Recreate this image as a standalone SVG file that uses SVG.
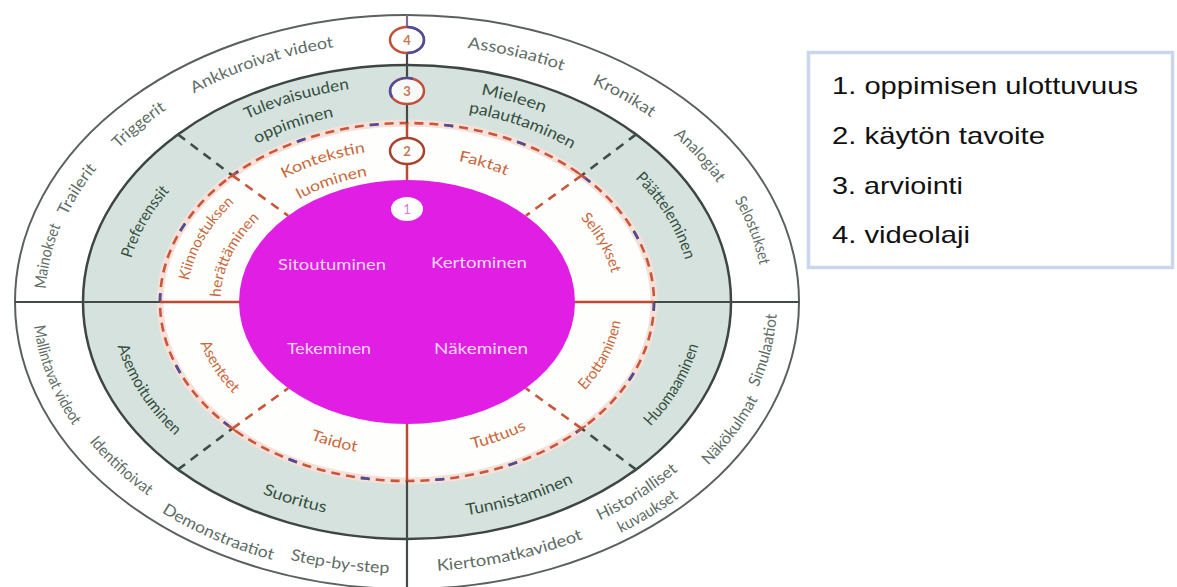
<svg xmlns="http://www.w3.org/2000/svg" width="1177" height="587" viewBox="0 0 1177 587">
<style>
.lbl{font-family:Lato,"Open Sans","Liberation Sans",sans-serif;text-anchor:middle}
.t4{font-size:16px;fill:#5e6d66}
.t3{font-size:16px;fill:#34503f}
.t2{font-size:15px;fill:#c8683c}
.tm{font-size:16px;fill:#f8d8f8}
.dk{stroke:#434b48;stroke-width:2.2;fill:none}
.rd{stroke:#b94a33;stroke-width:2.5;fill:none}
.dd{stroke:#3f4d47;stroke-width:2.6;stroke-dasharray:9 7;fill:none}
.rdd{stroke:#c9553a;stroke-width:2.6;stroke-dasharray:9 7;fill:none}
.num{font-family:Lato,"Open Sans",sans-serif;font-size:13px;font-weight:700;text-anchor:middle;fill:#c47a52}
.leg{font-family:"Liberation Sans",Arial,sans-serif;font-size:24px;fill:#111}
</style>
<defs>
<path id="p_ankk" d="M161.1,113.6 A356.4,260.2 0 0 1 372.2,43.1"/>
<path id="p_trig" d="M107.7,160.1 A356.9,260.5 0 0 1 179.5,101.3"/>
<path id="p_trai" d="M61.3,228.7 A360,262.8 0 0 1 105.8,158.1"/>
<path id="p_main" d="M45.4,305.7 A361.6,264 0 0 1 67.6,210.9"/>
<path id="p_asso" d="M442.7,45.6 A353,257.7 0 0 1 585.6,79.7"/>
<path id="p_kron" d="M576.2,77.3 A351.2,256.4 0 0 1 664.7,127.8"/>
<path id="p_anal" d="M660.6,125.1 A350.8,256.1 0 0 1 726.7,196.6"/>
<path id="p_selo" d="M725.1,185.2 A356,259.9 0 0 1 762,282.5"/>
<path id="p_mall" d="M32.7,297.2 A374.4,273.3 0 0 0 90.9,448.4"/>
<path id="p_iden" d="M77,425.8 A371,270.8 0 0 0 164.6,507"/>
<path id="p_demo" d="M135.8,494.5 A378.3,276.2 0 0 0 302.7,567.5"/>
<path id="p_step" d="M265.3,552.9 A371.8,271.4 0 0 0 414.8,573.4"/>
<path id="p_simu" d="M749.1,404.9 A370,270.1 0 0 0 776.9,294.5"/>
<path id="p_nako" d="M692.4,479.9 A375.3,274 0 0 0 766.8,379.8"/>
<path id="p_hist" d="M578,529.9 A356,259.9 0 0 0 695.4,454.4"/>
<path id="p_kuva" d="M604.9,540.5 A382,278.9 0 0 0 692.7,487.1"/>
<path id="p_kier" d="M399.3,571.6 A369.4,269.7 0 0 0 617.8,523.4"/>
<path id="p_tule" d="M222.4,132 A297.2,217 0 0 1 377,86.1"/>
<path id="p_oppi" d="M238.1,154 A263.9,192.6 0 0 1 354.8,113.1"/>
<path id="p_pref" d="M126.9,278.3 A282,205.9 0 0 1 183.6,176.4"/>
<path id="p_miel" d="M463.5,91.8 A293.5,214.3 0 0 1 560.4,119.3"/>
<path id="p_pala" d="M440.4,108.9 A266.6,194.6 0 0 1 595.5,164.4"/>
<path id="p_paat" d="M615.8,161.3 A284.1,207.4 0 0 1 690.1,285"/>
<path id="p_asem" d="M112.3,317.8 A295.5,215.7 0 0 0 197.3,454"/>
<path id="p_suor" d="M246.3,486.8 A299.9,218.9 0 0 0 342.6,515.8"/>
<path id="p_huom" d="M632.1,443.8 A297.3,217 0 0 0 703.2,320.9"/>
<path id="p_tunn" d="M438.2,518.4 A298.1,217.6 0 0 0 598.6,468.7"/>
<path id="p_kont" d="M263.9,190.8 A209,152.6 0 0 1 388.8,150"/>
<path id="p_luom" d="M284.7,208.6 A177,129.2 0 0 1 385.1,173.8"/>
<path id="p_kiin" d="M187,300.9 A220,160.6 0 0 1 249.8,189.6"/>
<path id="p_hera" d="M220.9,311.5 A186.5,136.1 0 0 1 270.6,209.1"/>
<path id="p_fakt" d="M446.1,159 A199.7,145.8 0 0 1 517.8,180.7"/>
<path id="p_seli" d="M568.7,206.4 A208.1,151.9 0 0 1 614.4,289.3"/>
<path id="p_asen" d="M195.7,327.5 A214.2,156.4 0 0 0 245.3,404.6"/>
<path id="p_taid" d="M299.1,434.6 A211.3,154.2 0 0 0 368.5,453.7"/>
<path id="p_erot" d="M569.7,404.9 A215.2,157.1 0 0 0 622.2,300.6"/>
<path id="p_tutt" d="M457.4,451.8 A211.3,154.2 0 0 0 540,421.9"/>
</defs>

<rect width="1177" height="587" fill="#ffffff"/>

<g id="rings">
<ellipse cx="407" cy="302" rx="392" ry="287" fill="#ffffff" stroke="#5a605d" stroke-width="2"/>
<ellipse cx="407" cy="302" rx="324" ry="237" fill="#d6e2dd" stroke="#3e4643" stroke-width="2.5"/>
<ellipse cx="407" cy="302" rx="247" ry="179" fill="#fefefc" stroke="#f5e0da" stroke-width="7"/>
<ellipse cx="407" cy="302" rx="247" ry="179" fill="none" stroke="#c9553a" stroke-width="2.6" stroke-dasharray="9 6" pathLength="1350"/>
<ellipse cx="407" cy="302" rx="247" ry="179" fill="none" stroke="#4a4f98" stroke-width="2.6" stroke-dasharray="9 66" pathLength="1350"/>
<ellipse id="core" cx="407" cy="302" rx="168" ry="122" fill="#e01ee4"/>
</g>

<g id="connectors">
<line class="dk" x1="15" y1="302" x2="160" y2="302"/>
<line class="rd" x1="160" y1="302" x2="240" y2="302"/>
<line class="rd" x1="575" y1="302" x2="654" y2="302"/>
<line class="dk" x1="654" y1="302" x2="799" y2="302"/>
<line x1="407" y1="15" x2="407" y2="27" stroke="#7d6f92" stroke-width="2.2"/>
<line class="dk" x1="407" y1="53" x2="407" y2="78"/>
<line class="dk" x1="407" y1="104" x2="407" y2="123"/>
<line class="rd" x1="407" y1="123" x2="407" y2="138"/>
<line class="rd" x1="407" y1="164" x2="407" y2="180"/>
<line class="rd" x1="407" y1="424" x2="407" y2="481"/>
<line class="dk" x1="407" y1="481" x2="407" y2="587"/>
<line class="dd" x1="177.9" y1="134.4" x2="232.3" y2="175.4"/>
<line class="dd" x1="636.1" y1="134.4" x2="581.7" y2="175.4"/>
<line class="dd" x1="177.9" y1="469.6" x2="232.3" y2="428.6"/>
<line class="dd" x1="636.1" y1="469.6" x2="581.7" y2="428.6"/>
<line class="rdd" x1="232.3" y1="175.4" x2="288.2" y2="215.7"/>
<line class="rdd" x1="581.7" y1="175.4" x2="525.8" y2="215.7"/>
<line class="rdd" x1="232.3" y1="428.6" x2="288.2" y2="388.3"/>
<line class="rdd" x1="581.7" y1="428.6" x2="525.8" y2="388.3"/>
<g stroke-width="2">
<line x1="173.9" y1="137.4" x2="181.9" y2="131.5" stroke="#3f4d47"/>
<line x1="632.1" y1="131.4" x2="640.1" y2="137.4" stroke="#3f4d47"/>
<line x1="173.9" y1="466.6" x2="181.9" y2="472.6" stroke="#3f4d47"/>
<line x1="632.1" y1="472.6" x2="640.1" y2="466.6" stroke="#3f4d47"/>
<line x1="228.2" y1="178.3" x2="236.4" y2="172.5" stroke="#c9553a"/>
<line x1="577.6" y1="172.5" x2="585.8" y2="178.3" stroke="#c9553a"/>
<line x1="228.2" y1="425.7" x2="236.4" y2="431.5" stroke="#c9553a"/>
<line x1="577.6" y1="431.5" x2="585.8" y2="425.7" stroke="#c9553a"/>
</g>
</g>

<g id="marker4">
<ellipse cx="407" cy="40" rx="17" ry="13" fill="#ffffff" stroke="#c2503a" stroke-width="2.5"/>
<path d="M407,27 A17,13 0 0 1 407,53" fill="none" stroke="#4b4f9a" stroke-width="2.5"/>
<text class="num" x="407" y="45">4</text>
</g>
<g id="marker3">
<ellipse cx="407" cy="91" rx="17" ry="13" fill="#f7f9f8" stroke="#c2503a" stroke-width="2.5"/>
<path d="M392.3,97.5 A17,13 0 0 1 412.8,78.8" fill="none" stroke="#4b4f9a" stroke-width="2.5"/>
<text class="num" x="407" y="96">3</text>
</g>
<g id="marker2">
<ellipse cx="407" cy="151" rx="17" ry="13" fill="#ffffff" stroke="#a8432d" stroke-width="2.5"/>
<text class="num" x="407" y="156">2</text>
</g>
<g id="marker1">
<ellipse cx="407" cy="209" rx="16" ry="12" fill="#ffffff"/>
<text class="num" x="407" y="214" style="fill:#d77ad8;font-weight:400">1</text>
</g>

<g id="core-labels" class="lbl tm">
<text id="sitoutuminen" x="332" y="270" textLength="108" lengthAdjust="spacingAndGlyphs">Sitoutuminen</text>
<text id="kertominen" x="479" y="268" textLength="96" lengthAdjust="spacingAndGlyphs">Kertominen</text>
<text id="tekeminen" x="329" y="354" textLength="84" lengthAdjust="spacingAndGlyphs">Tekeminen</text>
<text id="nakeminen" x="481" y="354" textLength="94" lengthAdjust="spacingAndGlyphs">Näkeminen</text>
</g>

<g id="band2-labels">
<g id="kontekstin"><text class="lbl t2"><textPath href="#p_kont" startOffset="50%" textLength="86" lengthAdjust="spacingAndGlyphs">Kontekstin</textPath></text>
<text class="lbl t2"><textPath href="#p_luom" startOffset="50%" textLength="72" lengthAdjust="spacingAndGlyphs">luominen</textPath></text></g>
<g id="kiinnostuksen"><text class="lbl t2"><textPath href="#p_kiin" startOffset="50%" textLength="92" lengthAdjust="spacingAndGlyphs">Kiinnostuksen</textPath></text>
<text class="lbl t2"><textPath href="#p_hera" startOffset="50%" textLength="90" lengthAdjust="spacingAndGlyphs">herättäminen</textPath></text></g>
<g id="faktat"><text class="lbl t2"><textPath href="#p_fakt" startOffset="50%" textLength="50" lengthAdjust="spacingAndGlyphs">Faktat</textPath></text></g>
<g id="selitykset"><text class="lbl t2"><textPath href="#p_seli" startOffset="50%" textLength="64" lengthAdjust="spacingAndGlyphs">Selitykset</textPath></text></g>
<g id="asenteet"><text class="lbl t2"><textPath href="#p_asen" startOffset="50%" textLength="61" lengthAdjust="spacingAndGlyphs">Asenteet</textPath></text></g>
<g id="taidot"><text class="lbl t2"><textPath href="#p_taid" startOffset="50%" textLength="48" lengthAdjust="spacingAndGlyphs">Taidot</textPath></text></g>
<g id="erottaminen"><text class="lbl t2"><textPath href="#p_erot" startOffset="50%" textLength="79" lengthAdjust="spacingAndGlyphs">Erottaminen</textPath></text></g>
<g id="tuttuus"><text class="lbl t2"><textPath href="#p_tutt" startOffset="50%" textLength="58" lengthAdjust="spacingAndGlyphs">Tuttuus</textPath></text></g>
</g>

<g id="band3-labels">
<g id="tulevaisuuden"><text class="lbl t3"><textPath href="#p_tule" startOffset="50%" textLength="107" lengthAdjust="spacingAndGlyphs">Tulevaisuuden</textPath></text>
<text class="lbl t3"><textPath href="#p_oppi" startOffset="50%" textLength="82" lengthAdjust="spacingAndGlyphs">oppiminen</textPath></text></g>
<g id="preferenssit"><text class="lbl t3"><textPath href="#p_pref" startOffset="50%" textLength="78" lengthAdjust="spacingAndGlyphs">Preferenssit</textPath></text></g>
<g id="mieleen"><text class="lbl t3"><textPath href="#p_miel" startOffset="50%" textLength="66" lengthAdjust="spacingAndGlyphs">Mieleen</textPath></text>
<text class="lbl t3"><textPath href="#p_pala" startOffset="50%" textLength="110" lengthAdjust="spacingAndGlyphs">palauttaminen</textPath></text></g>
<g id="paatteleminen"><text class="lbl t3"><textPath href="#p_paat" startOffset="50%" textLength="97" lengthAdjust="spacingAndGlyphs">Päätteleminen</textPath></text></g>
<g id="asemoituminen"><text class="lbl t3"><textPath href="#p_asem" startOffset="50%" textLength="108" lengthAdjust="spacingAndGlyphs">Asemoituminen</textPath></text></g>
<g id="suoritus"><text class="lbl t3"><textPath href="#p_suor" startOffset="50%" textLength="66" lengthAdjust="spacingAndGlyphs">Suoritus</textPath></text></g>
<g id="huomaaminen"><text class="lbl t3"><textPath href="#p_huom" startOffset="50%" textLength="95" lengthAdjust="spacingAndGlyphs">Huomaaminen</textPath></text></g>
<g id="tunnistaminen"><text class="lbl t3"><textPath href="#p_tunn" startOffset="50%" textLength="112" lengthAdjust="spacingAndGlyphs">Tunnistaminen</textPath></text></g>
</g>

<g id="band4-labels">
<g id="ankkuroivat"><text class="lbl t4"><textPath href="#p_ankk" startOffset="50%" textLength="148" lengthAdjust="spacingAndGlyphs">Ankkuroivat videot</textPath></text></g>
<g id="triggerit"><text class="lbl t4"><textPath href="#p_trig" startOffset="50%" textLength="62" lengthAdjust="spacingAndGlyphs">Triggerit</textPath></text></g>
<g id="trailerit"><text class="lbl t4"><textPath href="#p_trai" startOffset="50%" textLength="56" lengthAdjust="spacingAndGlyphs">Trailerit</textPath></text></g>
<g id="mainokset"><text class="lbl t4"><textPath href="#p_main" startOffset="50%" textLength="65" lengthAdjust="spacingAndGlyphs">Mainokset</textPath></text></g>
<g id="assosiaatiot"><text class="lbl t4"><textPath href="#p_asso" startOffset="50%" textLength="98" lengthAdjust="spacingAndGlyphs">Assosiaatiot</textPath></text></g>
<g id="kronikat"><text class="lbl t4"><textPath href="#p_kron" startOffset="50%" textLength="68" lengthAdjust="spacingAndGlyphs">Kronikat</textPath></text></g>
<g id="analogiat"><text class="lbl t4"><textPath href="#p_anal" startOffset="50%" textLength="65" lengthAdjust="spacingAndGlyphs">Analogiat</textPath></text></g>
<g id="selostukset"><text class="lbl t4"><textPath href="#p_selo" startOffset="50%" textLength="70" lengthAdjust="spacingAndGlyphs">Selostukset</textPath></text></g>
<g id="mallintavat"><text class="lbl t4"><textPath href="#p_mall" startOffset="50%" textLength="108" lengthAdjust="spacingAndGlyphs">Mallintavat videot</textPath></text></g>
<g id="identifioivat"><text class="lbl t4"><textPath href="#p_iden" startOffset="50%" textLength="80" lengthAdjust="spacingAndGlyphs">Identifioivat</textPath></text></g>
<g id="demonstraatiot"><text class="lbl t4"><textPath href="#p_demo" startOffset="50%" textLength="121" lengthAdjust="spacingAndGlyphs">Demonstraatiot</textPath></text></g>
<g id="stepbystep"><text class="lbl t4"><textPath href="#p_step" startOffset="50%" textLength="100" lengthAdjust="spacingAndGlyphs">Step-by-step</textPath></text></g>
<g id="simulaatiot"><text class="lbl t4"><textPath href="#p_simu" startOffset="50%" textLength="76" lengthAdjust="spacingAndGlyphs">Simulaatiot</textPath></text></g>
<g id="nakokulmat"><text class="lbl t4"><textPath href="#p_nako" startOffset="50%" textLength="83" lengthAdjust="spacingAndGlyphs">Näkökulmat</textPath></text></g>
<g id="historialliset"><text class="lbl t4"><textPath href="#p_hist" startOffset="50%" textLength="93" lengthAdjust="spacingAndGlyphs">Historialliset</textPath></text>
<text class="lbl t4"><textPath href="#p_kuva" startOffset="50%" textLength="68" lengthAdjust="spacingAndGlyphs">kuvaukset</textPath></text></g>
<g id="kiertomatkavideot"><text class="lbl t4"><textPath href="#p_kier" startOffset="50%" textLength="150" lengthAdjust="spacingAndGlyphs">Kiertomatkavideot</textPath></text></g>
</g>

<g id="legend">
<rect x="808.5" y="52.5" width="364" height="215" fill="#ffffff" stroke="#cad7ea" stroke-width="3.5"/>
<text class="leg" x="832" y="94" textLength="306" lengthAdjust="spacingAndGlyphs">1. oppimisen ulottuvuus</text>
<text class="leg" x="832" y="144" textLength="213" lengthAdjust="spacingAndGlyphs">2. käytön tavoite</text>
<text class="leg" x="832" y="194" textLength="131" lengthAdjust="spacingAndGlyphs">3. arviointi</text>
<text class="leg" x="832" y="243" textLength="138" lengthAdjust="spacingAndGlyphs">4. videolaji</text>
</g>
</svg>
